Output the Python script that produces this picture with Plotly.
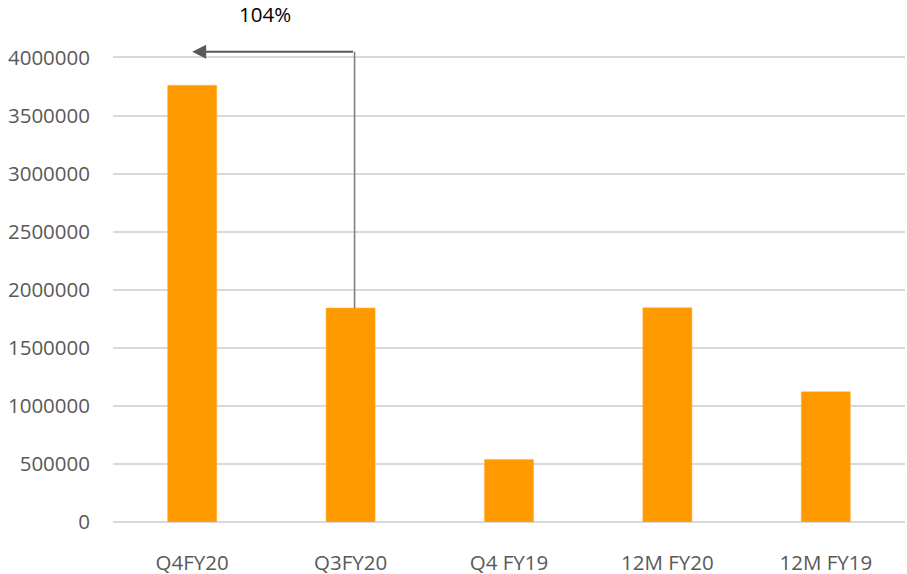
import plotly.graph_objects as go

categories = ["Q4FY20", "Q3FY20", "Q4 FY19", "12M FY20", "12M FY19"]
values = [3760000, 1843000, 539000, 1845000, 1122000]
tick_vals = [0, 500000, 1000000, 1500000, 2000000, 2500000, 3000000, 3500000, 4000000]
tick_text = [str(v) for v in tick_vals]
growth_label = "104%"
arrow_level = 4050000

fig = go.Figure()
fig.add_trace(go.Bar(
    x=list(range(len(categories))), y=values,
    marker=dict(color="#FF9900", line=dict(color="#FFB347", width=0.5)),
    width=0.31,
))

# vertical connector from Q3FY20 bar top
fig.add_shape(type="line", xref="x", yref="y",
              x0=1.025, x1=1.025, y0=values[1], y1=arrow_level,
              line=dict(color="#808080", width=1.6))
# horizontal arrow to Q4FY20
fig.add_annotation(x=0, y=arrow_level, ax=1.025, ay=arrow_level,
                   xref="x", yref="y", axref="x", ayref="y",
                   text="", showarrow=True, arrowhead=2, arrowsize=1.4,
                   arrowwidth=2, arrowcolor="#595959", standoff=0, startstandoff=0)
fig.add_annotation(x=0.46, y=4370000, xref="x", yref="y", text=growth_label,
                   showarrow=False, font=dict(size=20.5, color="#000000"))

fig.update_layout(
    width=907, height=574,
    margin=dict(l=113, r=2, t=11, b=52),
    plot_bgcolor="white", paper_bgcolor="white",
    showlegend=False,
    font=dict(family="Open Sans", size=20.5, color="#595959"),
    xaxis=dict(
        tickmode="array", tickvals=list(range(len(categories))), ticktext=categories,
        range=[-0.5, len(categories) - 0.5], automargin=False,
        showgrid=False, showline=False, zeroline=False,
        ticklabelstandoff=26,
        tickfont=dict(size=20.5, color="#595959"),
    ),
    yaxis=dict(
        range=[0, 4400000], tickmode="array", tickvals=tick_vals, ticktext=tick_text,
        automargin=False,
        showgrid=True, gridcolor="#D9D9D9", gridwidth=1.5,
        zeroline=True, zerolinecolor="#D9D9D9", zerolinewidth=2,
        showline=False, ticklabelstandoff=22,
        tickfont=dict(size=20.5, color="#595959"),
    ),
)

fig.write_html("out.html")
